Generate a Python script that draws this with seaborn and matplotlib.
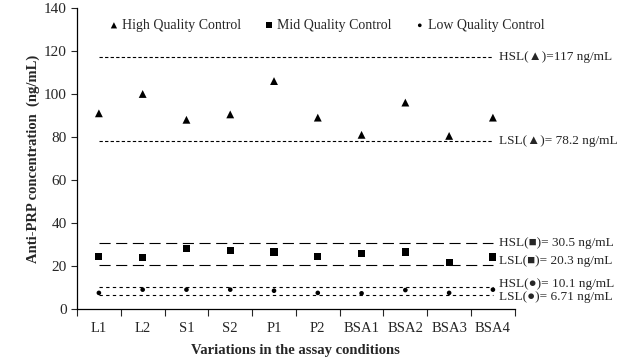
import pandas as pd
import matplotlib.pyplot as plt
import seaborn as sns

# Assay conditions and measured concentrations (ng/mL)
conditions = ["L1", "L2", "S1", "S2", "P1", "P2", "BSA1", "BSA2", "BSA3", "BSA4"]
high_qc = [91, 100, 88, 90.5, 106, 89, 81, 96, 80.5, 89]
mid_qc = [24.5, 23.8, 28, 27, 26.5, 24.5, 26, 26.5, 21.8, 24.2]
low_qc = [7.5, 9, 9, 9, 8.5, 7.5, 7.3, 8.8, 7.5, 9]

# Specification limits
limit_values = [117, 78.2, 30.5, 20.3, 10.1, 6.71]
limit_labels = ["HSL(\u25b2)=117 ng/mL", "LSL(\u25b2)= 78.2 ng/mL",
                "HSL(\u25a0)= 30.5 ng/mL", "LSL(\u25a0)= 20.3 ng/mL",
                "HSL(\u25cf)= 10.1 ng/mL", "LSL(\u25cf)= 6.71 ng/mL"]
label_y = [117, 78.2, 30.7, 22.2, 11.6, 5.7]
limit_dashes = [(3, 2), (3, 2), (10, 5), (10, 5), (3, 3), (3, 3)]

sns.set_style("white")
plt.rcParams["font.family"] = ["Liberation Serif", "DejaVu Sans"]

df = pd.DataFrame({"Condition": conditions, "High": high_qc,
                   "Mid": mid_qc, "Low": low_qc})

fig = plt.figure(figsize=(6.24, 3.62), dpi=100)
ax = fig.add_axes([0.1234, 0.1464, 0.7016, 0.8316])

sns.scatterplot(data=df, x="Condition", y="High", marker="^", s=32,
                color="black", edgecolor="none", label="High Quality Control", ax=ax)
sns.scatterplot(data=df, x="Condition", y="Mid", marker="s", s=26,
                color="black", edgecolor="none", label="Mid Quality Control", ax=ax)
sns.scatterplot(data=df, x="Condition", y="Low", marker="o", s=11,
                color="black", edgecolor="none", label="Low Quality Control", ax=ax)

for v, lab, ly, d in zip(limit_values, limit_labels, label_y, limit_dashes):
    ax.hlines(v, 0, len(conditions) - 1, colors="black", linewidth=0.8,
              linestyles=(0, d))
    ax.text(len(conditions) - 1 + 0.15, ly, lab, ha="left", va="center",
            fontsize=9.5, clip_on=False)

ax.set_xlim(-0.5, len(conditions) - 0.5)
ax.set_ylim(0, 140)
ax.set_yticks(range(0, 141, 20))
ax.set_xticks(range(len(conditions)))
ax.set_xticklabels(conditions)
ax.set_xticks([i - 0.5 for i in range(len(conditions) + 1)], minor=True)
ax.tick_params(axis="x", which="major", length=0, pad=9, labelsize=10.5)
ax.tick_params(axis="x", which="minor", length=5, width=0.8, direction="out", bottom=True)
ax.tick_params(axis="y", length=4, width=0.8, direction="out", left=True, labelsize=11)

sns.despine(ax=ax)
for s in ["left", "bottom"]:
    ax.spines[s].set_color("black")
    ax.spines[s].set_linewidth(0.9)

ax.set_xlabel("Variations in the assay conditions", fontsize=10.5,
              fontweight="bold", labelpad=7)
ax.set_ylabel("Anti-PRP concentration  (ng/mL)", fontsize=10.5,
              fontweight="bold", labelpad=3)

ax.legend(loc="upper center", bbox_to_anchor=(0.57, 1.005), ncol=3,
          frameon=False, fontsize=10, handlelength=0.8, handletextpad=0.2,
          columnspacing=1.6, markerscale=0.8)

fig.savefig("out.png", dpi=100)
